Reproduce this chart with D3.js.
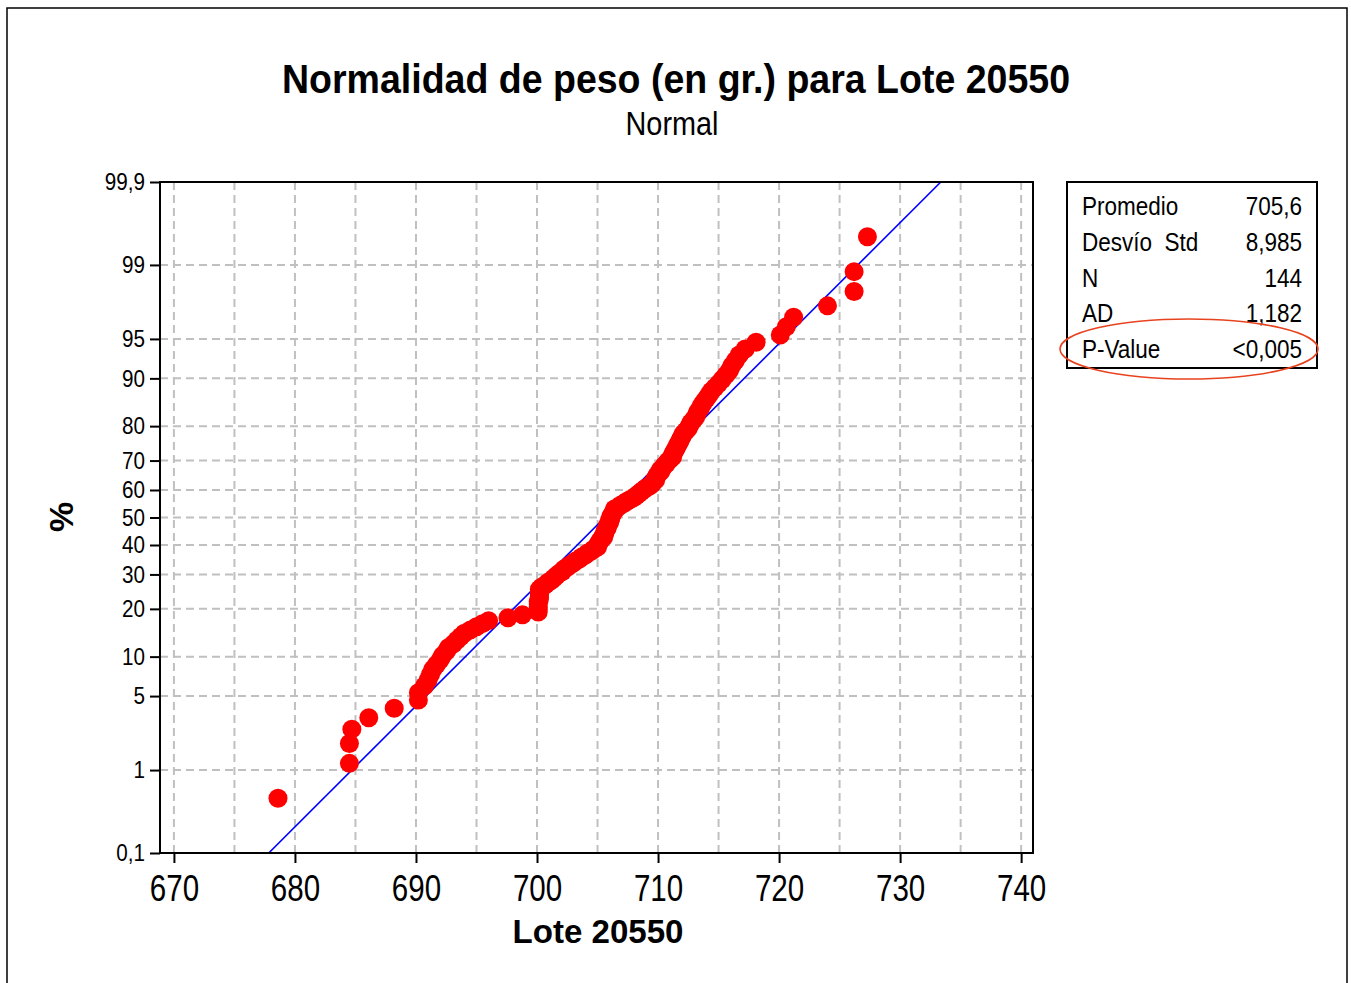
<!DOCTYPE html>
<html>
<head>
<meta charset="utf-8">
<script src="https://cdn.jsdelivr.net/npm/d3@7"></script>
<style>
  body { margin: 0; background: #fff; }
  svg { display: block; }
  text { font-family: "Liberation Sans", Arial, sans-serif; fill: #000; }
</style>
</head>
<body>
<script>
// pesos (gr.), ordenados
var pesos = [
  678.6, 684.5, 684.5, 684.7, 686.1, 688.2, 690.2, 690.2, 690.7, 691.0,
  691.2, 691.4, 691.7, 692.0, 692.2, 692.5, 692.7, 693.1, 693.4, 693.7,
  694.0, 694.5, 695.0, 695.5, 696.0, 697.6, 698.8, 700.1, 700.1, 700.1,
  700.1, 700.1, 700.2, 700.2, 700.2, 700.2, 700.2, 700.4, 700.7, 700.9,
  701.2, 701.4, 701.6, 701.8, 702.1, 702.2, 702.5, 702.7, 703.0, 703.2,
  703.5, 703.7, 704.0, 704.2, 704.5, 704.7, 705.0, 705.0, 705.1, 705.2,
  705.3, 705.5, 705.5, 705.6, 705.6, 705.7, 705.8, 705.8, 705.9, 706.0,
  706.0, 706.1, 706.1, 706.2, 706.3, 706.4, 706.4, 706.7, 706.9, 707.2,
  707.4, 707.7, 708.0, 708.2, 708.4, 708.6, 708.8, 709.0, 709.3, 709.5,
  709.6, 709.8, 709.8, 709.9, 710.0, 710.2, 710.2, 710.4, 710.5, 710.7,
  710.8, 711.0, 711.2, 711.2, 711.3, 711.4, 711.5, 711.6, 711.7, 711.8,
  711.9, 712.0, 712.1, 712.3, 712.5, 712.6, 712.7, 712.9, 713.1, 713.2,
  713.3, 713.5, 713.6, 713.8, 714.0, 714.2, 714.4, 714.7, 715.0, 715.3,
  715.6, 715.9, 716.1, 716.4, 716.7, 717.2, 718.1, 720.1, 720.6, 721.2,
  724.0, 726.2, 726.2, 727.3
];
var media = 705.6;
var desvio = 8.985;

var xTicks = [670, 680, 690, 700, 710, 720, 730, 740];
var xGrid = [670, 675, 680, 685, 690, 695, 700, 705, 710, 715, 720, 725, 730, 735, 740];
var pctTicks = [0.1, 1, 5, 10, 20, 30, 40, 50, 60, 70, 80, 90, 95, 99, 99.9];
var pctLabels = ["0,1", "1", "5", "10", "20", "30", "40", "50", "60", "70", "80", "90", "95", "99", "99,9"];
var pctGrid = [1, 5, 10, 20, 30, 40, 50, 60, 70, 80, 90, 95, 99];
var statNames = ["Promedio", "Desvío  Std", "N", "AD", "P-Value"];
var statValues = ["705,6", "8,985", "144", "1,182", "<0,005"];

// inversa de la normal (Acklam)
function probit(p) {
  var a = [-3.969683028665376e+01, 2.209460984245205e+02, -2.759285104469687e+02, 1.383577518672690e+02, -3.066479806614716e+01, 2.506628277459239e+00];
  var b = [-5.447609879822406e+01, 1.615858368580409e+02, -1.556989798598866e+02, 6.680131188771972e+01, -1.328068155288572e+01];
  var c = [-7.784894002430293e-03, -3.223964580411365e-01, -2.400758277161838e+00, -2.549732539343734e+00, 4.374664141464968e+00, 2.938163982698783e+00];
  var d = [7.784695709041462e-03, 3.224671290700398e-01, 2.445134137142996e+00, 3.754408661907416e+00];
  var q, r;
  if (p < 0.02425) {
    q = Math.sqrt(-2 * Math.log(p));
    return (((((c[0]*q+c[1])*q+c[2])*q+c[3])*q+c[4])*q+c[5]) / ((((d[0]*q+d[1])*q+d[2])*q+d[3])*q+1);
  }
  if (p > 1 - 0.02425) {
    q = Math.sqrt(-2 * Math.log(1 - p));
    return -(((((c[0]*q+c[1])*q+c[2])*q+c[3])*q+c[4])*q+c[5]) / ((((d[0]*q+d[1])*q+d[2])*q+d[3])*q+1);
  }
  q = p - 0.5; r = q * q;
  return (((((a[0]*r+a[1])*r+a[2])*r+a[3])*r+a[4])*r+a[5])*q / (((((b[0]*r+b[1])*r+b[2])*r+b[3])*r+b[4])*r+1);
}

// narrows text to look like the condensed original font
function squeeze(sel, f) {
  sel.each(function() {
    var len = this.getComputedTextLength();
    d3.select(this).attr("textLength", len * f).attr("lengthAdjust", "spacingAndGlyphs");
  });
}

var W = 1351, H = 983;
var pL = 160, pR = 1033, pT = 182, pB = 853;

var svg = d3.select("body").append("svg").attr("width", W).attr("height", H);

svg.append("rect")
  .attr("x", 7).attr("y", 8).attr("width", 1340).attr("height", 1000)
  .attr("fill", "none").attr("stroke", "#000").attr("stroke-width", 1.5);

var x = d3.scaleLinear().domain([668.85, 740.98]).range([pL, pR]);
var zMin = probit(0.001), zMax = probit(0.999);
var y = d3.scaleLinear().domain([zMin, zMax]).range([pB, pT]);

// grid
svg.append("g").selectAll("line").data(xGrid).join("line")
  .attr("x1", function(d) { return x(d); }).attr("x2", function(d) { return x(d); })
  .attr("y1", pT).attr("y2", pB)
  .attr("stroke", "#c0c0c0").attr("stroke-width", 2).attr("stroke-dasharray", "8,5");

svg.append("g").selectAll("line").data(pctGrid).join("line")
  .attr("x1", pL).attr("x2", pR)
  .attr("y1", function(d) { return y(probit(d / 100)); })
  .attr("y2", function(d) { return y(probit(d / 100)); })
  .attr("stroke", "#c0c0c0").attr("stroke-width", 2).attr("stroke-dasharray", "8,5");

// recta ajustada
var defs = svg.append("defs");
defs.append("clipPath").attr("id", "clip").append("rect")
  .attr("x", pL).attr("y", pT).attr("width", pR - pL).attr("height", pB - pT);

svg.append("line")
  .attr("clip-path", "url(#clip)")
  .attr("x1", x(media + desvio * zMin)).attr("y1", y(zMin))
  .attr("x2", x(media + desvio * zMax)).attr("y2", y(zMax))
  .attr("stroke", "#0000ff").attr("stroke-width", 1.6);

// puntos
var n = pesos.length;
svg.append("g").selectAll("circle").data(pesos).join("circle")
  .attr("cx", function(d) { return x(d); })
  .attr("cy", function(d, i) { return y(probit((i + 1 - 0.3) / (n + 0.4))); })
  .attr("r", 9.5)
  .attr("fill", "#ff0000");

// marco
svg.append("rect")
  .attr("x", pL).attr("y", pT).attr("width", pR - pL).attr("height", pB - pT)
  .attr("fill", "none").attr("stroke", "#000").attr("stroke-width", 2);

// ejes
var xAxis = d3.axisBottom(x).tickValues(xTicks).tickSize(10).tickPadding(10).tickFormat(d3.format("d"));
var gx = svg.append("g").attr("transform", "translate(0," + pB + ")").call(xAxis);
gx.select(".domain").remove();
gx.selectAll(".tick line").attr("stroke", "#000").attr("stroke-width", 2);
gx.selectAll(".tick text").attr("font-size", 36).attr("font-family", "Liberation Sans, Arial, sans-serif").attr("dy", "0.72em").attr("y", 22);
squeeze(gx.selectAll(".tick text"), 0.82);

var yAxis = d3.axisLeft(y)
  .tickValues(pctTicks.map(function(p) { return probit(p / 100); }))
  .tickFormat(function(d, i) { return pctLabels[i]; })
  .tickSize(10).tickPadding(5);
var gy = svg.append("g").attr("transform", "translate(" + pL + ",0)").call(yAxis);
gy.select(".domain").remove();
gy.selectAll(".tick line").attr("stroke", "#000").attr("stroke-width", 2);
gy.selectAll(".tick text").attr("font-size", 24).attr("font-family", "Liberation Sans, Arial, sans-serif");
squeeze(gy.selectAll(".tick text"), 0.86);

// titulos
var t1 = svg.append("text").attr("x", 676).attr("y", 93).attr("text-anchor", "middle")
  .attr("font-size", 40).attr("font-weight", "bold")
  .text("Normalidad de peso (en gr.) para Lote 20550");
t1.attr("textLength", 788).attr("lengthAdjust", "spacingAndGlyphs");

var t2 = svg.append("text").attr("x", 672).attr("y", 135).attr("text-anchor", "middle")
  .attr("font-size", 34).text("Normal");
t2.attr("textLength", 93).attr("lengthAdjust", "spacingAndGlyphs");

var t3 = svg.append("text").attr("x", 598).attr("y", 943).attr("text-anchor", "middle")
  .attr("font-size", 34).attr("font-weight", "bold").text("Lote 20550");
t3.attr("textLength", 171).attr("lengthAdjust", "spacingAndGlyphs");

svg.append("text").attr("transform", "translate(73,517) rotate(-90)")
  .attr("text-anchor", "middle").attr("font-size", 34).attr("font-weight", "bold").text("%");

// caja de estadísticos
svg.append("rect").attr("x", 1067).attr("y", 182).attr("width", 250).attr("height", 186)
  .attr("fill", "#fff").attr("stroke", "#000").attr("stroke-width", 2);

var rows = svg.append("g");
rows.selectAll("text.nm").data(statNames).join("text").attr("class", "nm")
  .attr("x", 1082).attr("y", function(d, i) { return 215 + i * 35.8; })
  .attr("font-size", 25).style("white-space", "pre").text(function(d) { return d; });
rows.selectAll("text.vl").data(statValues).join("text").attr("class", "vl")
  .attr("x", 1302).attr("y", function(d, i) { return 215 + i * 35.8; })
  .attr("text-anchor", "end").attr("font-size", 25).text(function(d) { return d; });
squeeze(rows.selectAll("text"), 0.9);

svg.append("ellipse").attr("cx", 1189).attr("cy", 349).attr("rx", 129).attr("ry", 30)
  .attr("fill", "none").attr("stroke", "#e8431f").attr("stroke-width", 1.6);
</script>
</body>
</html>
